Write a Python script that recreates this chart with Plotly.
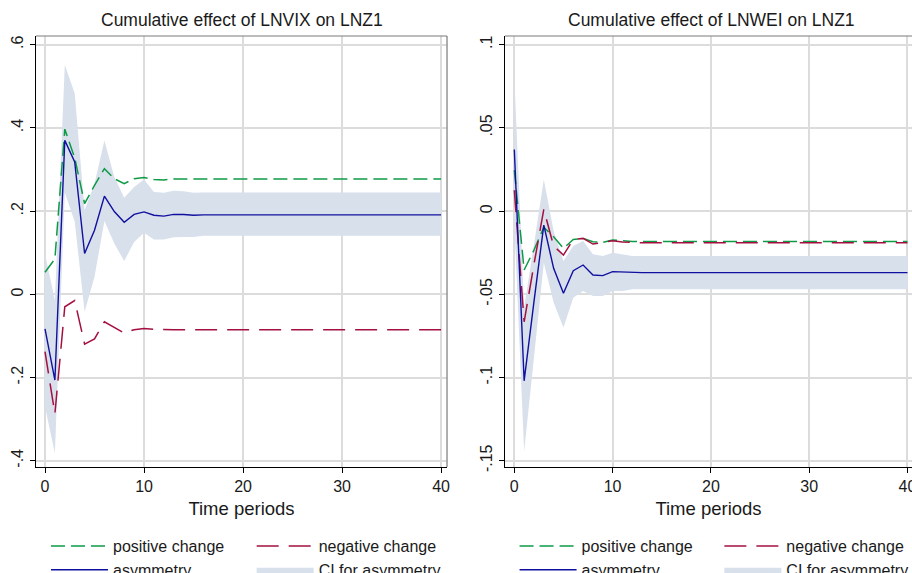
import plotly.graph_objects as go

# ---------------- data ----------------
periods = [0, 1, 2, 3, 4, 5, 6, 7, 8, 9, 10, 11, 12, 13, 14, 15, 16, 17, 18, 19, 20,
           21, 22, 23, 24, 25, 26, 27, 28, 29, 30, 31, 32, 33, 34, 35, 36, 37, 38, 39, 40]

# Left panel: LNVIX on LNZ1
vix_positive = [0.053, 0.085, 0.397, 0.328, 0.218, 0.262, 0.302, 0.278, 0.266, 0.278, 0.281, 0.276, 0.275,
                0.277, 0.277, 0.277, 0.277, 0.277, 0.277, 0.277,
                0.277, 0.277, 0.277, 0.277, 0.277, 0.277, 0.277,
                0.277, 0.277, 0.277, 0.277, 0.277, 0.277, 0.277,
                0.277, 0.277, 0.277, 0.277, 0.277, 0.277, 0.277]
vix_negative = [-0.138, -0.287, -0.030, -0.015, -0.120, -0.107, -0.066, -0.080, -0.093, -0.085, -0.082, -0.084, -0.085,
                -0.085, -0.085, -0.085, -0.085, -0.085, -0.085, -0.085,
                -0.085, -0.085, -0.085, -0.085, -0.085, -0.085, -0.085,
                -0.085, -0.085, -0.085, -0.085, -0.085, -0.085, -0.085,
                -0.085, -0.085, -0.085, -0.085, -0.085, -0.085, -0.085]
vix_asymmetry = [-0.083, -0.206, 0.370, 0.318, 0.098, 0.154, 0.236, 0.199, 0.173, 0.192, 0.198, 0.190, 0.188,
                 0.192, 0.192, 0.190, 0.191, 0.191, 0.191, 0.191,
                 0.191, 0.191, 0.191, 0.191, 0.191, 0.191, 0.191,
                 0.191, 0.191, 0.191, 0.191, 0.191, 0.191, 0.191,
                 0.191, 0.191, 0.191, 0.191, 0.191, 0.191, 0.191]
vix_ci_upper = [0.097, -0.014, 0.551, 0.483, 0.202, 0.266, 0.370, 0.282, 0.232, 0.258, 0.276, 0.246, 0.244,
                0.249, 0.248, 0.244, 0.245, 0.245, 0.245, 0.245,
                0.245, 0.245, 0.245, 0.245, 0.245, 0.245, 0.245,
                0.245, 0.245, 0.245, 0.245, 0.245, 0.245, 0.245,
                0.245, 0.245, 0.245, 0.245, 0.245, 0.245, 0.245]
vix_ci_lower = [-0.270, -0.382, 0.245, 0.175, -0.042, 0.042, 0.176, 0.122, 0.080, 0.126, 0.148, 0.132, 0.132,
                0.137, 0.138, 0.138, 0.141, 0.141, 0.141, 0.141,
                0.141, 0.141, 0.141, 0.141, 0.141, 0.141, 0.141,
                0.141, 0.141, 0.141, 0.141, 0.141, 0.141, 0.141,
                0.141, 0.141, 0.141, 0.141, 0.141, 0.141, 0.141]

# Right panel: LNWEI on LNZ1
wei_positive = [0.0246, -0.0354, -0.0234, -0.0098, -0.0154, -0.0224, -0.0170, -0.0164, -0.0184, -0.0188, -0.0174, -0.0180, -0.0182,
                -0.0182, -0.0182, -0.0182, -0.0182, -0.0182, -0.0182, -0.0182,
                -0.0182, -0.0182, -0.0182, -0.0182, -0.0182, -0.0182, -0.0182,
                -0.0182, -0.0182, -0.0182, -0.0182, -0.0182, -0.0182, -0.0182,
                -0.0182, -0.0182, -0.0182, -0.0182, -0.0182, -0.0182, -0.0182]
wei_negative = [0.0125, -0.0665, -0.0320, 0.0010, -0.0210, -0.0264, -0.0170, -0.0164, -0.0198, -0.0188, -0.0178, -0.0186, -0.0190,
                -0.0190, -0.0190, -0.0190, -0.0190, -0.0190, -0.0190, -0.0190,
                -0.0190, -0.0190, -0.0190, -0.0190, -0.0190, -0.0190, -0.0190,
                -0.0190, -0.0190, -0.0190, -0.0190, -0.0190, -0.0190, -0.0190,
                -0.0190, -0.0190, -0.0190, -0.0190, -0.0190, -0.0190, -0.0190]
wei_asymmetry = [0.0370, -0.1020, -0.0544, -0.0084, -0.0344, -0.0494, -0.0358, -0.0324, -0.0384, -0.0388, -0.0364, -0.0366, -0.0372,
                 -0.0370, -0.0370, -0.0370, -0.0370, -0.0370, -0.0370, -0.0370,
                 -0.0370, -0.0370, -0.0370, -0.0370, -0.0370, -0.0370, -0.0370,
                 -0.0370, -0.0370, -0.0370, -0.0370, -0.0370, -0.0370, -0.0370,
                 -0.0370, -0.0370, -0.0370, -0.0370, -0.0370, -0.0370, -0.0370]
wei_ci_upper = [0.0810, -0.0580, -0.0200, 0.0190, -0.0120, -0.0300, -0.0210, -0.0180, -0.0260, -0.0270, -0.0250, -0.0260, -0.0270,
                -0.0270, -0.0270, -0.0270, -0.0270, -0.0270, -0.0270, -0.0270,
                -0.0270, -0.0270, -0.0270, -0.0270, -0.0270, -0.0270, -0.0270,
                -0.0270, -0.0270, -0.0270, -0.0270, -0.0270, -0.0270, -0.0270,
                -0.0270, -0.0270, -0.0270, -0.0270, -0.0270, -0.0270, -0.0270]
wei_ci_lower = [-0.0070, -0.1445, -0.0880, -0.0310, -0.0550, -0.0700, -0.0520, -0.0480, -0.0510, -0.0510, -0.0480, -0.0480, -0.0470,
                -0.0470, -0.0470, -0.0470, -0.0470, -0.0470, -0.0470, -0.0470,
                -0.0470, -0.0470, -0.0470, -0.0470, -0.0470, -0.0470, -0.0470,
                -0.0470, -0.0470, -0.0470, -0.0470, -0.0470, -0.0470, -0.0470,
                -0.0470, -0.0470, -0.0470, -0.0470, -0.0470, -0.0470, -0.0470]

x_tick_vals = [0, 10, 20, 30, 40]
x_tick_text = ["0", "10", "20", "30", "40"]
left_y_tick_vals = [0.6, 0.4, 0.2, 0.0, -0.2, -0.4]
left_y_tick_text = [".6", ".4", ".2", "0", "-.2", "-.4"]
right_y_tick_vals = [0.1, 0.05, 0.0, -0.05, -0.1, -0.15]
right_y_tick_text = [".1", ".05", "0", "-.05", "-.1", "-.15"]

titles = ["Cumulative effect of LNVIX on LNZ1", "Cumulative effect of LNWEI on LNZ1"]
series_names = ["positive change", "negative change", "asymmetry", "CI for asymmetry"]

# ---------------- styling ----------------
FONT = "Liberation Sans, Arial, Helvetica, sans-serif"
GREEN = "#0E9A45"
RED = "#A3103F"
BLUE = "#10109E"
BAND = "rgb(216,224,236)"
GRID = "#DCDCDC"

fig = go.Figure()

panels = [
    dict(xa="x", ya="y", pos=vix_positive, neg=vix_negative, asym=vix_asymmetry,
         hi=vix_ci_upper, lo=vix_ci_lower, leg1="legend", leg2="legend2"),
    dict(xa="x2", ya="y2", pos=wei_positive, neg=wei_negative, asym=wei_asymmetry,
         hi=wei_ci_upper, lo=wei_ci_lower, leg1="legend3", leg2="legend4"),
]

for p in panels:
    # CI band: lower bound (invisible) then upper bound filled to it
    fig.add_trace(go.Scatter(x=periods, y=p["lo"], xaxis=p["xa"], yaxis=p["ya"],
                             mode="lines", line=dict(width=0, color=BAND),
                             showlegend=False, hoverinfo="skip"))
    fig.add_trace(go.Scatter(x=periods, y=p["hi"], xaxis=p["xa"], yaxis=p["ya"],
                             mode="lines", line=dict(width=0, color=BAND),
                             fill="tonexty", fillcolor=BAND,
                             name=series_names[3], legend=p["leg2"]))
    fig.add_trace(go.Scatter(x=periods, y=p["pos"], xaxis=p["xa"], yaxis=p["ya"],
                             mode="lines", line=dict(color=GREEN, width=1.5, dash="14px,6px"),
                             name=series_names[0], legend=p["leg1"]))
    fig.add_trace(go.Scatter(x=periods, y=p["neg"], xaxis=p["xa"], yaxis=p["ya"],
                             mode="lines", line=dict(color=RED, width=1.5, dash="22px,10px"),
                             name=series_names[1], legend=p["leg2"]))
    fig.add_trace(go.Scatter(x=periods, y=p["asym"], xaxis=p["xa"], yaxis=p["ya"],
                             mode="lines", line=dict(color=BLUE, width=1.4),
                             name=series_names[2], legend=p["leg1"]))

common_x = dict(tickvals=x_tick_vals, ticktext=x_tick_text, showgrid=True, gridcolor=GRID,
                gridwidth=1.6, zeroline=False, showline=True, linecolor="black", linewidth=1.3,
                ticks="outside", ticklen=5, tickcolor="black", tickwidth=1,
                ticklabeloverflow="allow",
                tickfont=dict(size=16, color="#1a1a1a"),
                title=dict(text="Time periods", standoff=7,
                           font=dict(size=18.5, color="#1a1a1a")))
common_y = dict(showgrid=True, gridcolor=GRID, gridwidth=1.6, zeroline=False, showline=True,
                linecolor="black", linewidth=1.3, ticks="outside", ticklen=5, tickcolor="black",
                tickwidth=1, tickangle=-90, tickfont=dict(size=16, color="#1a1a1a"))

fig.update_layout(
    width=912, height=573,
    margin=dict(l=36, r=0, t=36, b=106, autoexpand=False),
    paper_bgcolor="white", plot_bgcolor="white",
    font=dict(family=FONT, size=16, color="#1a1a1a"),
    xaxis=dict(domain=[0, 0.4692], range=[-0.909, 40.6], anchor="y", **common_x),
    yaxis=dict(domain=[0, 1], range=[-0.4151, 0.6209], anchor="x",
               tickvals=left_y_tick_vals, ticktext=left_y_tick_text, **common_y),
    xaxis2=dict(domain=[0.5354, 1.0], range=[-0.946, 40.46], anchor="y2", **common_x),
    yaxis2=dict(domain=[0, 1], range=[-0.15378, 0.10522], anchor="x2",
                tickvals=right_y_tick_vals, ticktext=right_y_tick_text, **common_y),
    showlegend=True,
)

leg_common = dict(orientation="v", xanchor="left", yanchor="top", y=-0.1439,
                  bgcolor="rgba(0,0,0,0)", borderwidth=0, itemwidth=57,
                  font=dict(size=16, color="#1a1a1a"), tracegroupgap=0)
fig.update_layout(
    legend=dict(x=0.0114, traceorder="normal", **leg_common),
    legend2=dict(x=0.2462, traceorder="reversed", **leg_common),
    legend3=dict(x=0.5463, traceorder="normal", **leg_common),
    legend4=dict(x=0.7801, traceorder="reversed", **leg_common),
)

# panel titles
fig.add_annotation(text=titles[0], xref="paper", yref="paper", x=0.2346, y=1.0371,
                   xanchor="center", yanchor="middle", showarrow=False,
                   font=dict(size=17.5, color="#1a1a1a"))
fig.add_annotation(text=titles[1], xref="paper", yref="paper", x=0.7706, y=1.0371,
                   xanchor="center", yanchor="middle", showarrow=False,
                   font=dict(size=17.5, color="#1a1a1a"))

# plot-region frame (top and right edges, grey)
FRAME = "#7a7a7a"
fig.add_shape(type="line", xref="x domain", yref="y domain", x0=0, x1=1, y0=1, y1=1,
              line=dict(color=FRAME, width=1.2))
fig.add_shape(type="line", xref="x domain", yref="y domain", x0=1, x1=1, y0=0, y1=1,
              line=dict(color=FRAME, width=1.2))
fig.add_shape(type="line", xref="x2 domain", yref="y2 domain", x0=0, x1=1, y0=1, y1=1,
              line=dict(color=FRAME, width=1.2))

fig.write_html("out.html",
               config={"displayModeBar": False},
               post_script="document.body.style.margin='0px';document.body.style.overflow='hidden';")
